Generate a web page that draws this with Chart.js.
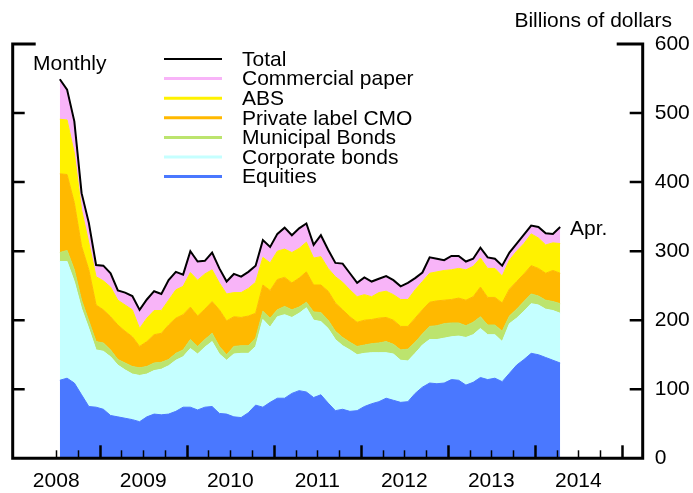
<!DOCTYPE html>
<html>
<head>
<meta charset="utf-8">
<script src="https://cdn.jsdelivr.net/npm/chart.js@4.4.1/dist/chart.umd.min.js"></script>
<style>
  html, body { margin: 0; padding: 0; background: #fff; }
</style>
</head>
<body>
<canvas id="graph" width="693" height="493"></canvas>
<script>
// monthly data, Jul 2008 - Apr 2014, billions of dollars
const firstYear = 2008, firstMonth = 7, nMonths = 70
const months = []
for (let i = 0; i < nMonths; i++) {
  const m = firstMonth - 1 + i
  months.push((firstYear + Math.floor(m / 12)) + '-' + String(m % 12 + 1).padStart(2, '0'))
}

const equities = [113,116,109,92,75,74,71,62,60,58,56,53,
  60,64,63,64,68,74,74,70,74,75,65,64,
  60,59,66,77,74,81,87,87,94,98,96,88,
  92,80,69,71,68,69,75,79,82,87,84,81,
  82,94,103,109,108,109,114,113,106,110,117,114,
  116,111,123,135,143,152,150,146,142,138]
const corporate = [172,169,147,125,113,83,84,85,75,70,66,67,
  62,63,66,70,74,73,85,81,87,94,86,78,
  91,93,86,85,127,109,118,121,110,112,122,112,
  106,108,103,92,89,81,77,74,71,66,67,61,
  59,58,61,63,64,65,62,64,69,69,71,65,
  63,58,72,68,70,72,72,70,72,72]
const municipal = [13,16,17,12,11,12,12,10,8,10,11,11,
  11,11,10,9,10,10,13,11,11,12,11,8,
  11,11,11,12,12,13,10,12,11,9,8,12,
  13,12,12,12,11,12,12,13,14,16,14,15,
  17,16,16,19,20,21,20,19,17,18,17,14,
  14,15,11,13,14,14,13,13,13,14]
const cmo = [114,110,97,78,74,53,48,48,50,46,43,31,
  36,41,42,50,51,51,47,44,44,46,53,49,
  43,41,43,36,38,40,44,42,39,42,44,39,
  40,42,41,40,37,35,36,35,36,35,35,34,
  33,35,35,35,36,34,34,36,37,37,43,40,
  40,41,39,40,40,41,40,39,45,44]
const abs = [79,79,72,53,39,41,42,43,36,38,39,26,
  34,35,33,36,41,41,50,52,51,46,39,39,
  35,36,40,45,40,40,41,41,44,43,43,39,
  41,33,38,40,39,37,37,33,37,38,37,39,
  39,41,41,42,42,43,43,43,44,44,42,42,
  42,39,42,44,44,46,44,41,40,43]
const cp = [58,44,46,24,29,17,22,20,14,18,20,27,
  27,28,24,29,26,17,31,27,19,25,21,18,
  27,23,24,24,25,23,25,31,25,29,27,19,
  31,27,20,27,24,20,25,22,20,22,21,19,
  24,17,13,23,19,15,20,18,12,11,15,16,
  14,15,11,11,13,12,16,17,13,24]

const yearLabels = ['2008', '2009', '2010', '2011', '2012', '2013', '2014']
const yTicks = [0, 100, 200, 300, 400, 500, 600]

const FONT = "'Liberation Sans', Arial, sans-serif"

const xOf = months.map(s => {
  const [yy, mm] = s.split('-').map(Number)
  return yy + (mm - 0.5) / 12
})
const pts = vals => vals.map((v, i) => ({ x: xOf[i], y: v }))
const total = months.map((_, i) => equities[i] + corporate[i] + municipal[i] + cmo[i] + abs[i] + cp[i])

const area = (label, vals, color, fill) => ({
  label, data: pts(vals), backgroundColor: color, borderColor: color, borderWidth: 1,
  fill, stack: 'parts', pointRadius: 0, tension: 0
})

const legendItems = [
  ['Total', '#000000'],
  ['Commercial paper', '#f8b4f8'],
  ['ABS', '#fff200'],
  ['Private label CMO', '#ffb900'],
  ['Municipal Bonds', '#bce46e'],
  ['Corporate bonds', '#c5ffff'],
  ['Equities', '#4a78ff']
]

const frame = {
  id: 'frame',
  afterDraw(chart) {
    const { ctx, chartArea: a, scales: { x, y } } = chart
    ctx.save()
    ctx.strokeStyle = '#000'
    // x tick marks, quarterly, pointing up
    for (let q = 2008.5; q <= 2015; q += 0.25) {
      const px = Math.round(x.getPixelForValue(q)) + 0.5
      const major = q % 1 === 0
      ctx.lineWidth = major ? 2.5 : 1.5
      ctx.beginPath()
      ctx.moveTo(px, a.bottom)
      ctx.lineTo(px, a.bottom - (major ? 13 : 8))
      ctx.stroke()
    }
    // y tick marks, both sides, pointing in
    ctx.lineWidth = 2.5
    yTicks.slice(1, -1).forEach(v => {
      const py = y.getPixelForValue(v)
      ctx.beginPath()
      ctx.moveTo(a.left, py); ctx.lineTo(a.left + 12, py)
      ctx.moveTo(a.right, py); ctx.lineTo(a.right - 13, py)
      ctx.stroke()
    })
    // frame
    ctx.lineWidth = 3
    ctx.beginPath()
    ctx.moveTo(a.left + 23, a.top); ctx.lineTo(a.left, a.top); ctx.lineTo(a.left, a.bottom)
    ctx.lineTo(a.right, a.bottom); ctx.lineTo(a.right, a.top); ctx.lineTo(a.right - 26, a.top)
    ctx.stroke()

    // legend
    ctx.font = '21px ' + FONT
    ctx.textBaseline = 'middle'
    ctx.fillStyle = '#000'
    legendItems.forEach(([name, color], k) => {
      const ly = 59 + k * 19.6
      ctx.strokeStyle = color
      ctx.lineWidth = k === 0 ? 2 : 3
      ctx.beginPath()
      ctx.moveTo(164, ly); ctx.lineTo(222, ly)
      ctx.stroke()
      ctx.fillText(name, 242, ly + 1)
    })

    // notes
    ctx.textBaseline = 'alphabetic'
    ctx.fillText('Monthly', 33, 70)
    ctx.fillText('Apr.', 570, 235)
    ctx.textAlign = 'right'
    ctx.fillText('Billions of dollars', 672, 27)
    ctx.restore()
  }
}

new Chart(document.querySelector('#graph'), {
  type: 'line',
  data: {
    datasets: [
      area('Equities', equities, '#4a78ff', 'origin'),
      area('Corporate bonds', corporate, '#c5ffff', '-1'),
      area('Municipal Bonds', municipal, '#bce46e', '-1'),
      area('Private label CMO', cmo, '#ffb900', '-1'),
      area('ABS', abs, '#fff200', '-1'),
      area('Commercial paper', cp, '#f8b4f8', '-1'),
      {
        label: 'Total', data: pts(total), borderColor: '#000', borderWidth: 2,
        fill: false, stack: 'total', order: -1, pointRadius: 0, tension: 0
      }
    ]
  },
  options: {
    responsive: false,
    animation: false,
    layout: { padding: { left: 12.7, top: 44, right: 0, bottom: 0 } },
    plugins: { legend: { display: false }, tooltip: { enabled: false } },
    scales: {
      x: {
        type: 'linear', min: 2008, max: 2015.24,
        grid: { display: false }, border: { display: false },
        afterBuildTicks: s => { s.ticks = yearLabels.map(l => ({ value: +l + 0.5 })) },
        afterFit: s => { s.height = 34.7 },
        ticks: {
          color: '#000', font: { family: FONT, size: 21 }, padding: 2,
          maxRotation: 0, autoSkip: false,
          callback: v => String(Math.floor(v))
        }
      },
      y: {
        position: 'right', stacked: true, min: 0, max: 600,
        grid: { display: false }, border: { display: false },
        afterBuildTicks: s => { s.ticks = yTicks.map(v => ({ value: v })) },
        afterFit: s => { s.width = 50.3 },
        ticks: { color: '#000', font: { family: FONT, size: 21 }, padding: 4 }
      }
    }
  },
  plugins: [frame]
})
</script>
</body>
</html>
